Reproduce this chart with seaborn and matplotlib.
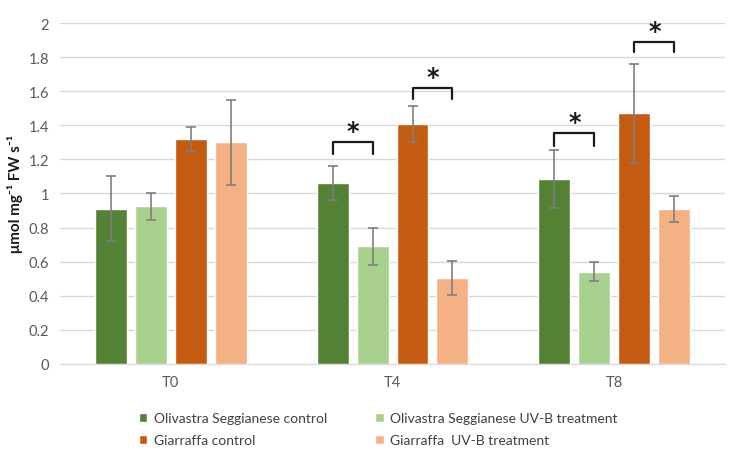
import pandas as pd
import numpy as np
import matplotlib
matplotlib.use("Agg")
import matplotlib.pyplot as plt
import seaborn as sns

# ===================== data =====================
times = ["T0", "T4", "T8"]
groups = ["Olivastra Seggianese control", "Olivastra Seggianese UV-B treatment",
          "Giarraffa control", "Giarraffa  UV-B treatment"]
colors = ["#548235", "#a9d18e", "#c55a11", "#f4b183"]

# mean values, one list per group (T0, T4, T8)
os_control = [0.91, 1.06, 1.085]
os_uvb = [0.925, 0.69, 0.54]
gi_control = [1.32, 1.41, 1.47]
gi_uvb = [1.30, 0.505, 0.91]

# error bar half-widths
os_control_err = [0.19, 0.10, 0.17]
os_uvb_err = [0.08, 0.11, 0.055]
gi_control_err = [0.068, 0.105, 0.29]
gi_uvb_err = [0.25, 0.10, 0.075]

# significance brackets: (time index, first group, second group, bracket top, leg bottom)
sig_time = [1, 1, 2, 2]
sig_pair = [(0, 1), (2, 3), (0, 1), (2, 3)]
sig_top = [1.30, 1.62, 1.355, 1.89]
sig_leg = [1.23, 1.555, 1.28, 1.83]

means = [os_control, os_uvb, gi_control, gi_uvb]
errs = [os_control_err, os_uvb_err, gi_control_err, gi_uvb_err]

rows = []
for g, m, e in zip(groups, means, errs):
    for t, v, ev in zip(times, m, e):
        rows.append({"time": t, "group": g, "value": v, "err": ev})
df = pd.DataFrame(rows)

# ===================== plot =====================
sns.set_style("white")
plt.rcParams["font.family"] = ["Lato", "DejaVu Sans"]

fig = plt.figure(figsize=(7.4, 4.56), dpi=100)
ax = fig.add_axes([0.081, 0.2, 0.899, 0.747])

sns.barplot(data=df, x="time", y="value", hue="group", hue_order=groups,
            palette=colors, errorbar=None, width=0.72, gap=0.2,
            saturation=1, ax=ax, legend=True, zorder=2)

# bar centres (copy containers first, errorbar adds its own)
bar_conts = list(ax.containers)
centres = {}
for gi, cont in enumerate(bar_conts):
    for ti, bar in enumerate(cont):
        centres[(ti, gi)] = bar.get_x() + bar.get_width() / 2

for (ti, gi), x in centres.items():
    ax.errorbar(x, means[gi][ti], yerr=errs[gi][ti], color="#7f7f7f",
                capsize=3.5, elinewidth=1.2, capthick=1.2, zorder=3)

# significance brackets
for t, (a, b), top, leg in zip(sig_time, sig_pair, sig_top, sig_leg):
    x1, x2 = centres[(t, a)], centres[(t, b)]
    ax.plot([x1, x1, x2, x2], [leg, top, top, leg], color="#1a1a1a", lw=1.6, zorder=4)
    ax.text((x1 + x2) / 2, top - 0.005, "*", ha="center", va="bottom",
            fontsize=17, fontweight="bold", color="#1a1a1a", family="DejaVu Sans")

ax.set_ylim(0, 2)
ax.set_xlim(-0.5, 2.5)
ax.set_yticks(np.arange(0, 2.01, 0.2))
ax.set_yticklabels(["0", "0.2", "0.4", "0.6", "0.8", "1", "1.2", "1.4", "1.6", "1.8", "2"])
ax.yaxis.grid(True, color="#d9d9d9", lw=1, zorder=0)
ax.set_axisbelow(True)
for s in ["top", "right", "left"]:
    ax.spines[s].set_visible(False)
ax.spines["bottom"].set_color("#d9d9d9")
ax.tick_params(axis="both", length=0, labelsize=10.5, colors="#595959", pad=8)
ax.set_xlabel("")
ax.set_ylabel("μmol mg⁻¹ FW s⁻¹", fontsize=11, fontweight="bold", color="#1a1a1a")

# legend filled row by row like the original
handles, labels = ax.get_legend_handles_labels()
order = [0, 2, 1, 3]
ax.legend([handles[i] for i in order], [labels[i] for i in order],
          loc="upper left", bbox_to_anchor=(0.1, -0.105), ncol=2,
          frameon=False, fontsize=10, handlelength=0.6, handleheight=0.6,
          handletextpad=0.45, columnspacing=3.5, labelspacing=0.75, labelcolor="#404040")

fig.savefig("out.png", dpi=100, facecolor="white")
